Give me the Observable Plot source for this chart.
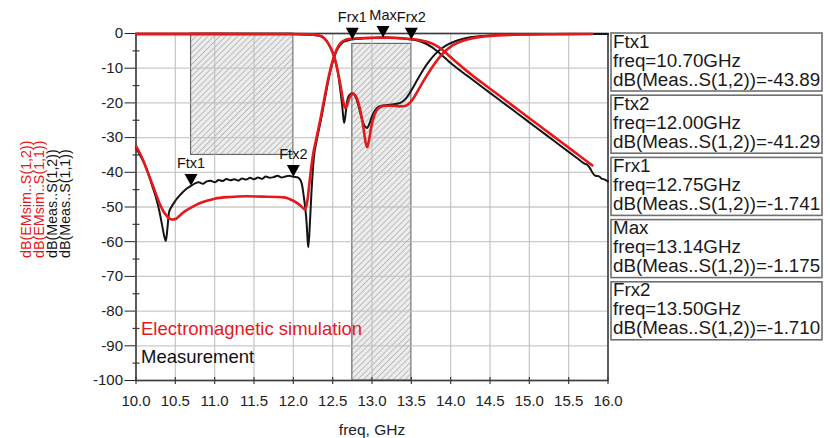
<!DOCTYPE html>
<html>
<head>
<meta charset="utf-8">
<script src="https://cdn.jsdelivr.net/npm/d3@7"></script>
<script src="https://cdn.jsdelivr.net/npm/@observablehq/plot@0.6"></script>
<style>
  html, body { margin: 0; padding: 0; background: #fff; }
  #chart svg { display: block; }
</style>
</head>
<body>
<div id="chart"></div>
<script>
// ---------- data (freq GHz, dB) ----------
const measS12 = [
  [10.00,-33.0],[10.05,-35.0],[10.10,-37.2],[10.15,-40.0],[10.20,-43.5],[10.25,-47.0],[10.30,-51.5],[10.33,-55.0],
  [10.36,-58.5],[10.38,-59.8],[10.40,-56.0],[10.42,-51.5],[10.45,-50.0],[10.50,-48.2],[10.55,-46.8],[10.60,-45.6],
  [10.65,-44.6],[10.70,-43.9],[10.75,-43.2],[10.80,-42.9],[10.85,-43.3],[10.90,-42.6],[10.95,-42.4],[11.00,-42.9],
  [11.05,-42.2],[11.10,-42.5],[11.15,-41.9],[11.20,-42.3],[11.25,-42.0],[11.30,-42.4],[11.35,-41.8],[11.40,-42.1],
  [11.45,-41.6],[11.50,-42.0],[11.55,-41.5],[11.60,-41.9],[11.65,-41.2],[11.70,-41.6],[11.75,-41.4],[11.80,-41.0],
  [11.85,-41.5],[11.90,-41.2],[11.95,-41.0],[12.00,-41.3],[12.05,-41.4],[12.08,-41.9],[12.11,-43.5],[12.13,-46.5],
  [12.15,-50.0],[12.17,-55.0],[12.18,-59.0],[12.19,-61.6],[12.21,-55.0],[12.23,-46.0],[12.26,-36.0],[12.30,-30.5],
  [12.35,-25.0],[12.40,-19.0],[12.45,-13.0],[12.50,-8.3],[12.55,-5.0],[12.60,-3.2],[12.65,-2.3],[12.70,-1.95],
  [12.75,-1.74],[12.85,-1.5],[12.95,-1.35],[13.05,-1.22],[13.14,-1.18],[13.25,-1.25],[13.35,-1.4],[13.45,-1.6],
  [13.50,-1.71],[13.55,-1.9],[13.60,-2.2],[13.65,-2.6],[13.70,-3.1],[13.75,-3.8],[13.80,-4.6],[13.85,-5.5],
  [13.90,-6.5],[13.95,-7.5],[14.00,-8.5],[14.10,-10.3],[14.20,-12.0],[14.30,-13.7],[14.40,-15.4],[14.50,-17.1],
  [14.60,-18.8],[14.70,-20.5],[14.80,-22.2],[14.90,-23.9],[15.00,-25.6],[15.10,-27.3],[15.20,-29.0],[15.30,-30.7],
  [15.40,-32.4],[15.50,-34.1],[15.60,-35.8],[15.70,-37.5],[15.74,-37.9],[15.77,-38.8],[15.80,-40.0],[15.84,-41.0],
  [15.88,-41.1],[15.92,-41.8],[15.96,-42.1],[16.00,-42.6]
];
const measS11 = [
  [10.00,-0.2],[11.00,-0.2],[12.00,-0.25],[12.20,-0.35],[12.30,-0.55],[12.36,-0.9],[12.40,-1.6],[12.44,-2.8],
  [12.48,-4.5],[12.52,-6.8],[12.56,-10.5],[12.59,-15.0],[12.62,-20.5],[12.645,-25.8],[12.66,-24.0],[12.68,-20.0],
  [12.71,-17.8],[12.75,-17.2],[12.79,-18.2],[12.83,-21.0],[12.87,-24.5],[12.91,-26.8],[12.94,-27.2],[12.97,-25.8],
  [13.01,-23.3],[13.06,-21.5],[13.12,-20.8],[13.20,-20.6],[13.28,-20.4],[13.36,-20.0],[13.42,-19.0],[13.47,-17.5],
  [13.52,-15.6],[13.58,-13.2],[13.65,-10.5],[13.72,-8.2],[13.80,-6.0],[13.88,-4.4],[13.96,-3.2],[14.05,-2.3],
  [14.15,-1.6],[14.25,-1.1],[14.40,-0.7],[14.60,-0.45],[14.90,-0.3],[15.30,-0.2],[16.00,-0.15]
];
const emS12 = [
  [10.00,-32.5],[10.05,-34.5],[10.10,-37.0],[10.15,-40.0],[10.20,-43.0],[10.25,-46.0],[10.30,-49.0],[10.35,-51.3],
  [10.40,-52.8],[10.45,-53.6],[10.50,-53.5],[10.55,-52.6],[10.60,-51.6],[10.70,-50.2],[10.80,-49.0],[10.90,-48.2],
  [11.00,-47.6],[11.20,-47.1],[11.40,-46.9],[11.60,-47.0],[11.80,-47.1],[11.90,-47.3],[11.95,-47.7],[12.00,-48.2],
  [12.05,-48.9],[12.10,-49.8],[12.15,-50.8],[12.18,-48.0],[12.20,-44.0],[12.22,-40.0],[12.25,-35.0],[12.30,-29.5],
  [12.35,-24.0],[12.40,-18.0],[12.45,-12.3],[12.50,-7.8],[12.55,-4.6],[12.60,-2.8],[12.65,-2.0],[12.70,-1.6],
  [12.80,-1.4],[12.90,-1.3],[13.00,-1.25],[13.10,-1.2],[13.20,-1.2],[13.30,-1.25],[13.40,-1.4],[13.50,-1.6],
  [13.60,-1.9],[13.70,-2.4],[13.80,-3.3],[13.90,-4.8],[14.00,-6.8],[14.10,-8.8],[14.20,-10.7],[14.30,-12.5],
  [14.40,-14.2],[14.50,-15.9],[14.60,-17.6],[14.70,-19.3],[14.80,-21.0],[14.90,-22.7],[15.00,-24.4],[15.10,-26.1],
  [15.20,-27.8],[15.30,-29.5],[15.40,-31.2],[15.50,-32.9],[15.60,-34.6],[15.70,-36.3],[15.80,-38.0]
];
const emS11 = [
  [10.00,-0.1],[12.00,-0.15],[12.20,-0.25],[12.30,-0.45],[12.36,-0.8],[12.40,-1.5],[12.44,-2.7],[12.48,-4.4],
  [12.52,-6.7],[12.56,-10.3],[12.60,-15.0],[12.63,-19.0],[12.66,-21.5],[12.68,-21.0],[12.71,-18.8],[12.76,-17.4],
  [12.81,-18.8],[12.85,-22.0],[12.89,-27.0],[12.92,-31.5],[12.94,-32.8],[12.96,-31.0],[12.99,-27.0],[13.03,-23.5],
  [13.08,-21.6],[13.15,-20.9],[13.25,-20.8],[13.35,-21.0],[13.43,-20.8],[13.49,-19.8],[13.55,-17.8],[13.62,-15.0],
  [13.70,-12.0],[13.78,-9.2],[13.86,-6.8],[13.94,-4.9],[14.02,-3.5],[14.12,-2.4],[14.25,-1.5],[14.40,-0.9],
  [14.60,-0.55],[14.90,-0.3],[15.30,-0.2],[15.80,-0.15]
];

// spec mask bands
const maskBands = [
  {f1: 10.70, f2: 12.00, top: 0,  bottom: -35},
  {f1: 12.75, f2: 13.50, top: -3, bottom: -100}
];

// markers
const markerNames = ["Ftx1", "Ftx2", "Frx1", "Max", "Frx2"];
const markerFreqs = [10.70, 12.00, 12.75, 13.14, 13.50];
const markerDb    = [-43.89, -41.29, -1.741, -1.175, -1.710];
const markerDbText = ["-43.89", "-41.29", "-1.741", "-1.175", "-1.710"];

// ticks & labels
const xTicks = [10, 10.5, 11, 11.5, 12, 12.5, 13, 13.5, 14, 14.5, 15, 15.5, 16];
const yTicks = [0, -10, -20, -30, -40, -50, -60, -70, -80, -90, -100];
const yMinorTicks = [-5, -15, -25, -35, -45, -55, -65, -75, -85, -95];
const yLabelLines = ["dB(EMsim..S(1,2))", "dB(EMsim..S(1,1))", "dB(Meas..S(1,2))", "dB(Meas..S(1,1))"];
const yLabelColors = ["#e3191c", "#e3191c", "#141414", "#141414"];
const legendSim = "Electromagnetic simulation";
const legendMeas = "Measurement";
const xLabel = "freq, GHz";
const measureExpr = "dB(Meas..S(1,2))";

// ---------- drawing ----------
const RED = "#e3191c", BLACK = "#141414";
const markers = markerNames.map((n, i) => ({name: n, f: markerFreqs[i], db: markerDb[i]}));

const downTri = {
  draw(ctx, size) {
    const r = Math.sqrt(size / Math.PI);
    ctx.moveTo(0, 0); ctx.lineTo(-r, -1.8 * r); ctx.lineTo(r, -1.8 * r); ctx.closePath();
  }
};
const hTick = { draw(ctx, size) { const r = Math.sqrt(size / Math.PI); ctx.moveTo(-r, 0); ctx.lineTo(r, 0); } };
const vTick = { draw(ctx, size) { const r = Math.sqrt(size / Math.PI); ctx.moveTo(0, -r); ctx.lineTo(0, r); } };

const FONT = "'Liberation Sans', Arial, Helvetica, sans-serif";

const yLabelMarks = yLabelLines.map((t, i) =>
  Plot.text([t], {
    frameAnchor: "left", text: d => d, rotate: -90, textAnchor: "start", lineAnchor: "middle",
    dx: -109.5 + i * 13, dy: 51, fill: yLabelColors[i], fontSize: 14.3
  })
);

const svg = Plot.plot({
  width: 830,
  height: 438,
  marginTop: 33,
  marginLeft: 135.5,
  marginRight: 222.5,
  marginBottom: 58,
  style: {fontFamily: FONT, fontSize: "15px", color: "#222", background: "#fff", overflow: "visible"},
  x: {domain: [10, 16], ticks: xTicks, tickFormat: d3.format(".1f"), tickSize: 0, tickPadding: 15, label: null},
  y: {domain: [-100, 0], ticks: yTicks, tickFormat: d => String(d), tickSize: 11, tickPadding: 2, label: null},
  marks: [
    Plot.rect(maskBands, {x1: "f1", x2: "f2", y1: "bottom", y2: "top", fill: "url(#hatch)", stroke: "#6a6a6a", strokeWidth: 1.2}),
    Plot.ruleX(xTicks, {x: d => d, stroke: "#bdbdbd", strokeWidth: 1.3, strokeOpacity: 0.8}),
    Plot.ruleY(yTicks, {y: d => d, stroke: "#bdbdbd", strokeWidth: 1.3, strokeOpacity: 0.8}),
    Plot.frame({stroke: "#3c3c3c", strokeWidth: 1.6}),
    Plot.dot(yMinorTicks, {y: d => d, frameAnchor: "left", symbol: hTick, r: 3.5, stroke: "#3c3c3c", strokeWidth: 1.2, fill: "none"}),
    Plot.dot(xTicks, {x: d => d, frameAnchor: "bottom", symbol: vTick, r: 3.5, stroke: "#3c3c3c", strokeWidth: 1.2, fill: "none"}),
    Plot.line(measS11, {x: d => d[0], y: d => d[1], stroke: BLACK, strokeWidth: 2, curve: "monotone-x"}),
    Plot.line(measS12, {x: d => d[0], y: d => d[1], stroke: BLACK, strokeWidth: 2, curve: "monotone-x"}),
    Plot.line(emS11, {x: d => d[0], y: d => d[1], stroke: RED, strokeWidth: 2.6, curve: "monotone-x"}),
    Plot.line(emS12, {x: d => d[0], y: d => d[1], stroke: RED, strokeWidth: 2.6, curve: "monotone-x"}),
    Plot.dot(markers, {x: "f", y: "db", symbol: downTri, r: 6.5, fill: "#000", stroke: "none"}),
    Plot.text(markers, {x: "f", y: "db", text: "name", dy: -22, fontSize: 14.5, fill: "#111"}),
    Plot.text([legendSim], {frameAnchor: "bottom-left", text: d => d, textAnchor: "start", lineAnchor: "middle", dx: 5, dy: -51, fill: RED, fontSize: 18.5}),
    Plot.text([legendMeas], {frameAnchor: "bottom-left", text: d => d, textAnchor: "start", lineAnchor: "middle", dx: 5, dy: -23, fill: "#111", fontSize: 18.5}),
    Plot.text([xLabel], {frameAnchor: "bottom", text: d => d, lineAnchor: "middle", dy: 50, fill: "#222", fontSize: 15.5}),
    ...yLabelMarks
  ]
});

const root = d3.select(svg);
const defs = root.insert("defs", ":first-child");
const pat = defs.append("pattern").attr("id", "hatch").attr("patternUnits", "userSpaceOnUse")
  .attr("width", 4.2).attr("height", 4.2).attr("patternTransform", "rotate(45)");
pat.append("rect").attr("width", 4.2).attr("height", 4.2).attr("fill", "#ececec");
pat.append("line").attr("x1", 0).attr("y1", 0).attr("x2", 0).attr("y2", 4.2)
  .attr("stroke", "#9a9a9a").attr("stroke-width", 1.1);

// marker readout boxes on the right
const bx = 611, bw = 211, bh = 58, step = 62.2, top0 = 33;
markers.forEach((m, i) => {
  const top = top0 + i * step;
  const g = root.append("g").attr("font-family", FONT).attr("font-size", 18.8)
    .attr("fill", "#1a1a1a").attr("text-anchor", "start");
  g.append("rect").attr("x", bx).attr("y", top).attr("width", bw).attr("height", bh)
    .attr("fill", "#fff").attr("stroke", "#707070").attr("stroke-width", 1.6);
  const lines = [m.name, "freq=" + m.f.toFixed(2) + "GHz", measureExpr + "=" + markerDbText[i]];
  lines.forEach((t, j) => {
    g.append("text").attr("x", bx + 2).attr("y", top + 14.5 + j * 19).attr("text-anchor", "start").text(t);
  });
});

document.getElementById("chart").appendChild(svg);
</script>
</body>
</html>
